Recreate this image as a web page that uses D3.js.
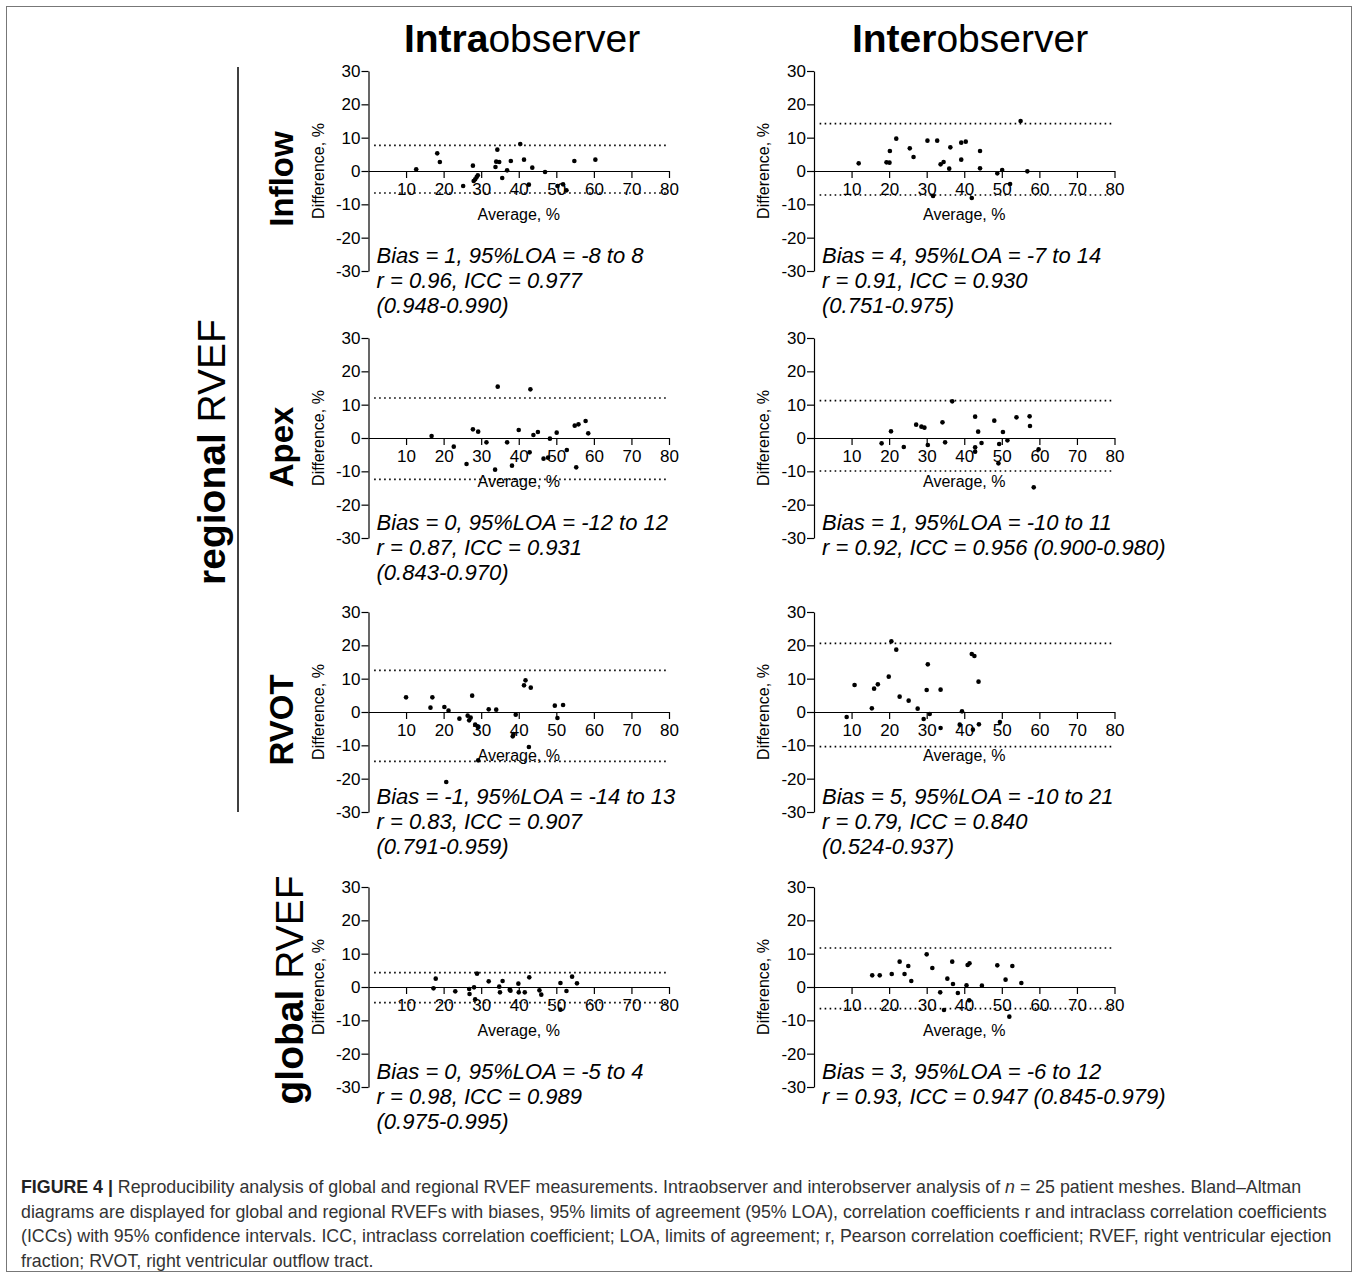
<!DOCTYPE html>
<html lang="en">
<head>
    <title>Figure 4 Bland-Altman</title>
    <script src="https://cdn.jsdelivr.net/npm/d3@7"></script>
    <style>
        body { margin: 0; background: #fff; }
        text { font-family: "Liberation Sans", Arial, sans-serif; }
    </style>
</head>
<body>
<div id="figure"></div>

<script type="text/javascript">
// [average, difference] per patient
var inflowIntra = [[12.7,0.5],[18.3,5.3],[19.0,2.7],[25.2,-4.5],[27.8,1.6],[28.0,-3.0],[28.4,-2.5],[28.8,-1.8],
    [29.1,-1.3],[33.8,1.2],[34.3,6.4],[34.0,2.8],[34.8,2.7],[35.6,-2.1],[36.9,0.2],[37.9,3.0],[40.4,8.1],
    [41.4,3.4],[42.7,-4.1],[43.6,1.0],[47.0,-0.3],[50.3,-4.5],[51.8,-4.0],[52.7,-5.8],[54.8,3.0],[60.4,3.4]];
var inflowInter = [[11.9,2.3],[19.3,2.6],[20.1,2.5],[20.2,6.0],[21.9,9.7],[25.5,6.8],[26.5,4.2],[30.2,9.1],
    [31.7,-7.5],[32.8,9.1],[33.7,2.0],[34.5,2.7],[36.0,0.7],[36.3,7.1],[39.2,3.4],[39.2,8.5],[40.4,8.8],
    [42.0,-8.1],[44.2,6.0],[44.2,0.8],[48.8,-0.7],[50.1,0.3],[52.2,-3.9],[55.0,15.0],[56.8,-0.1]];
var apexIntra = [[16.8,0.6],[22.7,-2.6],[26.1,-7.8],[27.8,2.6],[29.2,1.9],[31.4,-1.3],[33.7,-9.5],[34.4,15.4],
    [36.9,-1.3],[38.2,-8.3],[40.0,2.4],[42.9,-4.3],[43.1,14.6],[43.9,0.9],[45.1,1.8],[46.6,-6.2],[47.8,-5.9],
    [48.3,-0.2],[50.1,1.6],[52.8,-3.6],[54.9,3.7],[55.3,-8.8],[55.9,4.1],[57.8,5.1],[58.5,1.4]];
var apexInter = [[18.0,-1.6],[20.5,2.0],[23.9,-2.7],[27.2,4.0],[28.6,3.4],[29.4,3.1],[30.3,-2.1],[34.2,4.7],
    [34.9,-1.3],[36.8,11.0],[42.9,6.4],[42.9,-2.8],[42.9,-4.1],[43.7,1.9],[44.6,-1.5],[48.0,5.2],[49.1,-7.6],
    [49.3,-1.8],[50.3,1.8],[51.5,-0.7],[53.9,6.2],[57.4,6.5],[57.5,3.6],[58.5,-14.8],[59.8,-3.4]];
var rvotIntra = [[10.0,4.4],[16.5,1.3],[17.0,4.4],[20.2,1.5],[20.7,-21.0],[21.3,0.4],[24.2,-2.0],[26.4,-1.1],
    [26.8,-2.5],[27.2,-1.7],[27.6,4.9],[28.4,-3.8],[29.1,-4.5],[29.2,-14.5],[32.0,0.8],[34.0,0.7],[38.4,-7.3],
    [38.6,-6.6],[39.2,-0.8],[41.4,8.0],[41.8,9.5],[42.7,-10.5],[43.2,7.3],[49.6,1.9],[50.3,-1.8],[51.8,2.1]];
var rvotInter = [[8.7,-1.5],[10.8,8.1],[15.4,1.1],[16.0,7.0],[17.0,8.3],[19.9,10.6],[20.6,21.2],[21.9,18.7],
    [22.8,4.6],[25.2,3.4],[27.6,1.0],[29.2,-2.1],[30.0,6.6],[30.3,14.3],[30.8,-0.6],[33.7,6.7],[33.7,-4.8],
    [38.8,-3.8],[39.4,0.2],[42.0,17.4],[42.3,-5.3],[42.7,16.8],[43.8,9.1],[43.9,-3.7],[49.5,-3.0]];
var globalIntra = [[17.3,-0.4],[17.9,2.5],[23.1,-1.3],[26.8,-0.6],[26.9,-2.1],[28.1,-0.1],[28.4,-3.7],[28.9,4.0],
    [32.0,1.7],[34.8,0.1],[35.0,-1.6],[35.7,1.8],[37.6,-0.8],[37.8,-1.1],[39.9,1.0],[40.0,-1.6],[41.6,-1.6],
    [42.8,2.9],[45.5,-1.0],[46.0,-2.3],[51.1,-6.8],[51.1,1.2],[52.7,-1.2],[54.2,3.1],[55.5,1.1]];
var globalInter = [[15.5,3.5],[17.5,3.5],[20.7,3.9],[22.8,7.6],[24.1,3.9],[25.1,6.3],[25.9,1.8],[30.0,9.8],
    [31.5,5.7],[33.6,-1.6],[34.6,-6.9],[35.5,2.5],[36.8,7.6],[37.0,0.9],[38.3,-1.8],[40.6,0.5],[40.9,6.6],
    [41.4,7.1],[41.3,-4.0],[44.7,0.4],[48.8,6.5],[51.0,2.2],[52.0,-8.9],[52.8,6.3],[55.2,1.2]];

// limits of agreement as drawn (dotted lines), order: inflow, apex, rvot, global
var loaUpperIntra = [7.7, 12.0, 12.5, 4.3];
var loaLowerIntra = [-6.6, -12.4, -14.8, -4.7];
var loaUpperInter = [14.2, 11.2, 20.6, 11.7];
var loaLowerInter = [-7.2, -9.9, -10.4, -6.5];

var rowNames = ["Inflow", "Apex", "RVOT", "global"];
var xTicks = [10, 20, 30, 40, 50, 60, 70, 80];
var yTicks = [-30, -20, -10, 0, 10, 20, 30];

var statsIntra = [
    ["Bias = 1, 95%LOA = -8 to 8", "r = 0.96, ICC = 0.977", "(0.948-0.990)"],
    ["Bias = 0, 95%LOA = -12 to 12", "r = 0.87, ICC = 0.931", "(0.843-0.970)"],
    ["Bias = -1, 95%LOA = -14 to 13", "r = 0.83, ICC = 0.907", "(0.791-0.959)"],
    ["Bias = 0, 95%LOA = -5 to 4", "r = 0.98, ICC = 0.989", "(0.975-0.995)"]
];
var statsInter = [
    ["Bias = 4, 95%LOA = -7 to 14", "r = 0.91, ICC = 0.930", "(0.751-0.975)"],
    ["Bias = 1, 95%LOA = -10 to 11", "r = 0.92, ICC = 0.956 (0.900-0.980)"],
    ["Bias = 5, 95%LOA = -10 to 21", "r = 0.79, ICC = 0.840", "(0.524-0.937)"],
    ["Bias = 3, 95%LOA = -6 to 12", "r = 0.93, ICC = 0.947 (0.845-0.979)"]
];

var captionLines = [
    [["FIGURE 4 | ", "b"], ["Reproducibility analysis of global and regional RVEF measurements. Intraobserver and interobserver analysis of ", ""], ["n", "i"], [" = 25 patient meshes. Bland–Altman", ""]],
    [["diagrams are displayed for global and regional RVEFs with biases, 95% limits of agreement (95% LOA), correlation coefficients r and intraclass correlation coefficients", ""]],
    [["(ICCs) with 95% confidence intervals. ICC, intraclass correlation coefficient; LOA, limits of agreement; r, Pearson correlation coefficient; RVEF, right ventricular ejection", ""]],
    [["fraction; RVOT, right ventricular outflow tract.", ""]]
];
</script>

<script type="text/javascript">
var W = 1358, H = 1277;

var svg = d3.select("#figure").append("svg")
    .attr("width", W)
    .attr("height", H);

svg.append("rect")
    .attr("x", 6.5).attr("y", 6.5)
    .attr("width", 1345).attr("height", 1265)
    .attr("fill", "none")
    .attr("stroke", "#777")
    .attr("stroke-width", 1);

function boldTitle(x, y, boldPart, rest, size, rotate) {
    var t = svg.append("text")
        .attr("text-anchor", "middle")
        .attr("font-size", size)
        .attr("fill", "#000");
    if (rotate) {
        t.attr("transform", "translate(" + x + "," + y + ") rotate(-90)");
    } else {
        t.attr("x", x).attr("y", y);
    }
    t.append("tspan").attr("font-weight", "bold").text(boldPart);
    if (rest) t.append("tspan").text(rest);
    return t;
}

// column titles
boldTitle(522, 52, "Intra", "observer", 39, false);
boldTitle(970, 52, "Inter", "observer", 39, false);

// row labels
var rowTop = [71, 338, 612, 887];
boldTitle(293, rowTop[0] + 108, "Inflow", "", 33, true);
boldTitle(293, rowTop[1] + 109, "Apex", "", 33, true);
boldTitle(293, rowTop[2] + 108, "RVOT", "", 33, true);
boldTitle(303, rowTop[3] + 103, "global", " RVEF", 39, true);
boldTitle(225, 452, "regional", " RVEF", 39, true);

svg.append("line")
    .attr("x1", 238).attr("x2", 238)
    .attr("y1", 67).attr("y2", 812)
    .attr("stroke", "#000")
    .attr("stroke-width", 1.5);

var panels = [
    [inflowIntra, inflowInter],
    [apexIntra, apexInter],
    [rvotIntra, rvotInter],
    [globalIntra, globalInter]
];
var colLeft = [368.5, 814];

panels.forEach(function(pair, r) {
    pair.forEach(function(points, c) {
        var x = d3.scaleLinear().domain([0, 80]).range([colLeft[c], colLeft[c] + 300.5]);
        var y = d3.scaleLinear().domain([-30, 30]).range([rowTop[r] + 200, rowTop[r]]);
        var g = svg.append("g");

        var upper = c === 0 ? loaUpperIntra[r] : loaUpperInter[r];
        var lower = c === 0 ? loaLowerIntra[r] : loaLowerInter[r];
        [upper, lower].forEach(function(v) {
            g.append("line")
                .attr("x1", x(1.5)).attr("x2", x(79.5))
                .attr("y1", y(v)).attr("y2", y(v))
                .attr("stroke", "#000")
                .attr("stroke-width", 1.6)
                .attr("stroke-dasharray", "1.6,3.4");
        });

        var yAxis = g.append("g")
            .attr("transform", "translate(" + colLeft[c] + ",0)")
            .call(d3.axisLeft(y).tickValues(yTicks).tickSize(7).tickSizeOuter(0).tickPadding(1)
                .tickFormat(function(d) { return String(d); }));

        var xAxis = g.append("g")
            .attr("transform", "translate(0," + y(0) + ")")
            .call(d3.axisBottom(x).tickValues(xTicks).tickSize(7).tickSizeOuter(0).tickPadding(5)
                .tickFormat(function(d) { return String(d); }));

        [yAxis, xAxis].forEach(function(a) {
            a.selectAll("path, line").attr("stroke", "#000").attr("stroke-width", 1.2);
            a.selectAll("text")
                .attr("font-family", "Liberation Sans, Arial, sans-serif")
                .attr("font-size", 17)
                .attr("fill", "#000");
        });

        g.append("text")
            .attr("transform", "translate(" + (colLeft[c] - 45) + "," + y(0) + ") rotate(-90)")
            .attr("text-anchor", "middle")
            .attr("font-size", 16)
            .text("Difference, %");

        g.append("text")
            .attr("x", x(40)).attr("y", y(0) + 49)
            .attr("text-anchor", "middle")
            .attr("font-size", 16)
            .text("Average, %");

        g.selectAll("circle")
            .data(points)
            .enter().append("circle")
            .attr("cx", function(d) { return x(d[0]); })
            .attr("cy", function(d) { return y(d[1]); })
            .attr("r", 2.3)
            .attr("fill", "#000");

        var stats = c === 0 ? statsIntra[r] : statsInter[r];
        var st = g.append("text")
            .attr("font-size", 22)
            .attr("font-style", "italic")
            .attr("fill", "#000");
        stats.forEach(function(line, i) {
            st.append("tspan")
                .attr("x", colLeft[c] + 8)
                .attr("y", rowTop[r] + 192 + i * 25)
                .text(line);
        });
    });
});

// caption
var cap = svg.append("text")
    .attr("font-size", 17.8)
    .attr("fill", "#333");
captionLines.forEach(function(parts, i) {
    parts.forEach(function(p, j) {
        var ts = cap.append("tspan").text(p[0]);
        if (j === 0) ts.attr("x", 21).attr("y", 1193 + i * 24.5);
        if (p[1] === "b") ts.attr("font-weight", "bold").attr("fill", "#222");
        if (p[1] === "i") ts.attr("font-style", "italic");
    });
});
</script>
</body>
</html>
